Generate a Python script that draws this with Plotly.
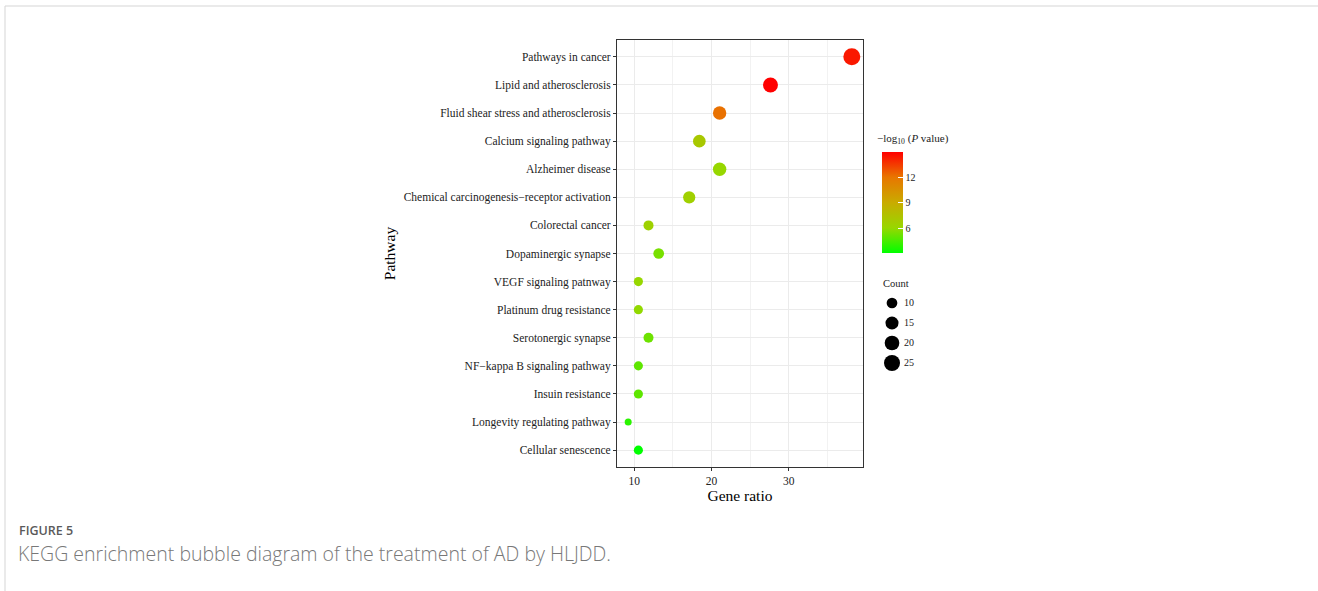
import numpy as np
import plotly.graph_objects as go

# ---------------- data ----------------
pathways = [
    "Pathways in cancer",
    "Lipid and atherosclerosis",
    "Fluid shear stress and atherosclerosis",
    "Calcium signaling pathway",
    "Alzheimer disease",
    "Chemical carcinogenesis\u2212receptor activation",
    "Colorectal cancer",
    "Dopaminergic synapse",
    "VEGF signaling patnway",
    "Platinum drug resistance",
    "Serotonergic synapse",
    "NF\u2212kappa B signaling pathway",
    "Insuin resistance",
    "Longevity regulating pathway",
    "Cellular senescence",
]
counts = [29, 21, 16, 14, 16, 13, 9, 10, 8, 8, 9, 8, 8, 7, 8]
gene_ratio = [38.16, 27.63, 21.05, 18.42, 21.05, 17.11, 11.84, 13.16,
              10.53, 10.53, 11.84, 10.53, 10.53, 9.21, 10.53]
neglog_p = [14.3, 14.9, 12.1, 7.1, 6.1, 6.6, 6.5, 5.5, 6.1, 6.0, 5.3, 5.0, 5.0, 4.0, 3.2]

legend_counts = [10, 15, 20, 25]
cbar_ticks = [6, 9, 12]

# ---------------- styling helpers ----------------
W, H = 1318, 591
PL, PR, PT, PB = 617, 863, 40, 467   # panel edges in px

SERIF = "Liberation Serif, Times New Roman, serif"
SANS = "Open Sans, Noto Sans, sans-serif"

cmin_c, cmax_c = min(counts), max(counts)


def size_of(c):
    t = (np.asarray(c, dtype=float) - cmin_c) / (cmax_c - cmin_c)
    return 7 + 10 * np.sqrt(np.clip(t, 0, None))


colorscale = [
    [0.0, "#00FF00"],
    [0.25, "#98D700"],
    [0.5, "#C9AB00"],
    [0.75, "#E87600"],
    [1.0, "#FF0000"],
]

xr_lo, xr_hi = min(gene_ratio), max(gene_ratio)
pad = (xr_hi - xr_lo) * 0.05
xrange = [xr_lo - pad, xr_hi + pad]
n = len(pathways)

fig = go.Figure()

fig.add_trace(go.Scatter(
    x=gene_ratio, y=pathways, mode="markers",
    marker=dict(
        size=size_of(counts), sizemode="diameter",
        color=neglog_p, colorscale=colorscale,
        cmin=min(neglog_p), cmax=max(neglog_p),
        line=dict(width=0), opacity=1,
        colorbar=dict(
            x=882 / W, xanchor="left", xpad=0,
            y=1 - 152 / H, yanchor="top", ypad=0,
            len=101, lenmode="pixels", thickness=21,
            outlinewidth=0,
            tickvals=cbar_ticks, ticks="inside", ticklen=5,
            tickcolor="white", tickwidth=1,
            tickfont=dict(family=SERIF, size=10, color="#222"),
            title=dict(text=""),
        ),
    ),
    showlegend=False, hoverinfo="x+y",
))

# size legend (own small axis pair)
leg_idx = list(range(len(legend_counts)))
fig.add_trace(go.Scatter(
    x=[12] * len(legend_counts), y=leg_idx, mode="markers",
    marker=dict(size=size_of(legend_counts), color="#000000", opacity=1,
                line=dict(width=0)),
    xaxis="x2", yaxis="y2", showlegend=False, hoverinfo="skip",
))
fig.add_trace(go.Scatter(
    x=[24] * len(legend_counts), y=leg_idx, mode="text",
    text=[str(v) for v in legend_counts], textposition="middle right",
    textfont=dict(family=SERIF, size=10, color="#222"),
    xaxis="x2", yaxis="y2", showlegend=False, hoverinfo="skip",
))

fig.update_layout(
    width=W, height=H,
    margin=dict(l=0, r=0, t=0, b=0),
    paper_bgcolor="white", plot_bgcolor="white",
    xaxis=dict(
        domain=[PL / W, PR / W], range=xrange,
        tickvals=[10, 20, 30], ticks="outside", ticklen=3, tickcolor="#333",
        tickfont=dict(family=SERIF, size=11.5, color="#222"),
        showgrid=True, gridcolor="#EBEBEB", gridwidth=1,
        minor=dict(tickvals=[15, 25, 35], showgrid=True, gridcolor="#F2F2F2", gridwidth=0.6),
        showline=True, linecolor="#333", linewidth=1, mirror=True,
        zeroline=False,
        title=dict(text="Gene ratio", font=dict(family=SERIF, size=15.5, color="black"), standoff=1),
    ),
    yaxis=dict(
        domain=[1 - PB / H, 1 - PT / H],
        type="category", categoryarray=pathways,
        range=[n - 1 + 0.6, -0.6],
        ticks="outside", ticklen=3, tickcolor="#333",
        tickfont=dict(family=SERIF, size=11.5, color="#222"),
        showgrid=True, gridcolor="#EBEBEB", gridwidth=1,
        showline=True, linecolor="#333", linewidth=1, mirror=True,
        zeroline=False,
        title=dict(text="Pathway", font=dict(family=SERIF, size=15.5, color="black"), standoff=4),
    ),
    xaxis2=dict(domain=[880 / W, 930 / W], range=[0, 50], visible=False, fixedrange=True),
    yaxis2=dict(domain=[1 - 373 / H, 1 - 293 / H], range=[3.5, -0.5], visible=False, fixedrange=True),
    annotations=[
        dict(text="\u2212log<sub>10</sub> (<i>P</i> value)", x=875 / W, y=1 - 139 / H,
             xref="paper", yref="paper", xanchor="left", yanchor="middle", showarrow=False,
             font=dict(family=SERIF, size=11, color="#222")),
        dict(text="Count", x=881 / W, y=1 - 283 / H,
             xref="paper", yref="paper", xanchor="left", yanchor="middle", showarrow=False,
             font=dict(family=SERIF, size=10.5, color="#222")),
        dict(text="FIGURE 5", x=17 / W, y=1 - 530 / H,
             xref="paper", yref="paper", xanchor="left", yanchor="middle", showarrow=False,
             font=dict(family=SANS, size=12.5, color="#5a5a5a", weight=600)),
        dict(text="KEGG enrichment bubble diagram of the treatment of AD by HLJDD.",
             x=16 / W, y=1 - 553 / H,
             xref="paper", yref="paper", xanchor="left", yanchor="middle", showarrow=False,
             font=dict(family=SANS, size=19.5, color="#787878", weight=300)),
    ],
    shapes=[
        dict(type="line", xref="paper", yref="paper", x0=5 / W, x1=1, y0=1 - 6 / H, y1=1 - 6 / H,
             line=dict(color="#d5d5d5", width=1)),
        dict(type="line", xref="paper", yref="paper", x0=5 / W, x1=5 / W, y0=0, y1=1 - 6 / H,
             line=dict(color="#d5d5d5", width=1)),
    ],
)

fig.write_html("out.html")
